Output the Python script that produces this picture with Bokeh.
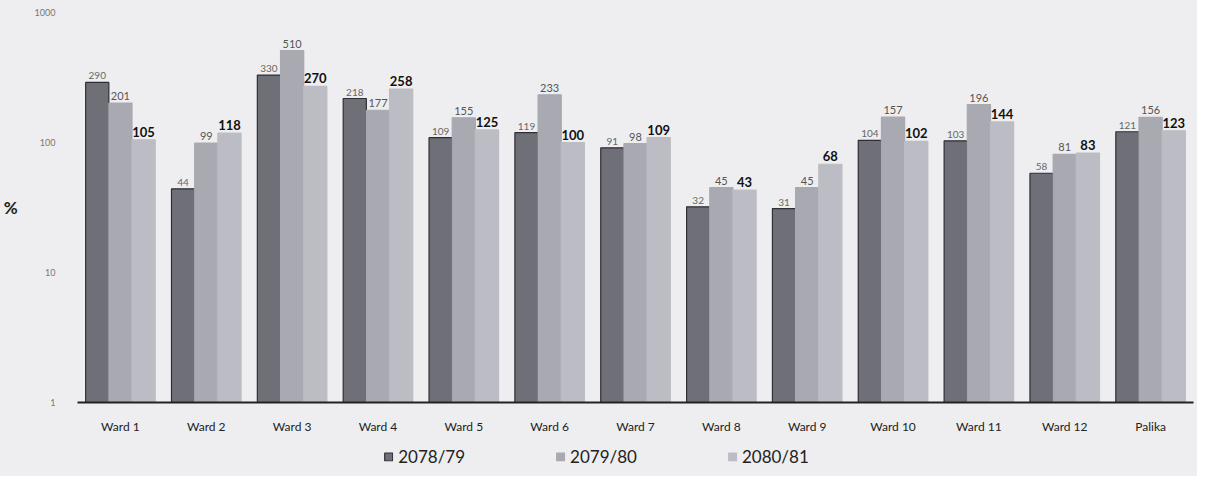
from bokeh.plotting import figure
from bokeh.layouts import column
from bokeh.models import ColumnDataSource, FactorRange, Legend, LegendItem, NumeralTickFormatter, Range1d
from bokeh.transform import dodge
from bokeh.core.properties import value
from bokeh.embed import file_html
from bokeh.resources import INLINE

categories = ["Ward 1", "Ward 2", "Ward 3", "Ward 4", "Ward 5", "Ward 6", "Ward 7",
              "Ward 8", "Ward 9", "Ward 10", "Ward 11", "Ward 12", "Palika"]
s2078 = [290, 44, 330, 218, 109, 119, 91, 32, 31, 104, 103, 58, 121]
s2079 = [201, 99, 510, 177, 155, 233, 98, 45, 45, 157, 196, 81, 156]
s2080 = [105, 118, 270, 258, 125, 100, 109, 43, 68, 102, 144, 83, 123]
series_names = ["2078/79", "2079/80", "2080/81"]
y_ticks = [1, 10, 100, 1000]

src = ColumnDataSource(dict(
    cat=categories, a=s2078, b=s2079, c=s2080,
    la=[str(v) for v in s2078], lb=[str(v) for v in s2079], lc=[str(v) for v in s2080],
))

BG = "#eeeef0"
FONT = "Lato"

p = figure(x_range=FactorRange(*categories), y_axis_type="log", y_range=(1, 1000),
           frame_width=1116, frame_height=390, output_backend="svg", toolbar_location=None,
           min_border_left=72, min_border_right=4, min_border_top=12, min_border_bottom=4,
           background_fill_color=BG, border_fill_color=BG)
p.outline_line_color = None
p.xgrid.visible = False
p.ygrid.visible = False

w = 0.27
cols = [("a", -w, "#6f6f78", "#2e2e36"), ("b", 0.0, "#a9a9b2", "#a9a9b2"), ("c", w, "#bcbcc4", "#bcbcc4")]
for field, off, fill, line in cols:
    p.vbar(x=dodge("cat", off, range=p.x_range), top=field, bottom=1, width=w,
           source=src, fill_color=fill, line_color=line, line_width=1.2)

p.text(x=dodge("cat", -w, range=p.x_range), y="a", text="la", source=src,
       text_font=value(FONT), text_font_size="10px", text_color="#666666",
       text_align="center", text_baseline="bottom", y_offset=-3)
p.text(x=dodge("cat", 0.0, range=p.x_range), y="b", text="lb", source=src,
       text_font=value(FONT), text_font_size="11px", text_color="#555555",
       text_align="center", text_baseline="bottom", y_offset=-3)
p.text(x=dodge("cat", w, range=p.x_range), y="c", text="lc", source=src,
       text_font=value(FONT), text_font_size="13px", text_font_style="bold", text_color="#111111",
       text_align="center", text_baseline="bottom", y_offset=-3)

p.yaxis.ticker = y_ticks
p.yaxis.formatter = NumeralTickFormatter(format="0")
p.yaxis.axis_line_color = None
p.yaxis.major_tick_line_color = None
p.yaxis.minor_tick_line_color = None
p.yaxis.major_label_text_font = FONT
p.yaxis.major_label_text_font_size = "9px"
p.yaxis.major_label_text_color = "#777777"
p.yaxis.major_label_standoff = 16
p.yaxis.axis_label = "%"
p.yaxis.axis_label_orientation = "horizontal"
p.yaxis.axis_label_text_font = FONT
p.yaxis.axis_label_text_font_size = "17px"
p.yaxis.axis_label_text_font_style = "bold"
p.yaxis.axis_label_text_color = "#222222"
p.yaxis.axis_label_standoff = 14

p.xaxis.axis_line_color = "#222222"
p.xaxis.axis_line_width = 2
p.xaxis.major_tick_line_color = None
p.xaxis.minor_tick_line_color = None
p.xaxis.major_label_text_font = FONT
p.xaxis.major_label_text_font_size = "12px"
p.xaxis.major_label_text_color = "#222222"
p.xaxis.major_label_standoff = 10

# legend strip below the chart (legend-only renderers hold a single NaN so nothing is drawn)
lg = figure(frame_width=1116, frame_height=40, output_backend="svg", toolbar_location=None,
            x_range=Range1d(0, 1), y_range=Range1d(0, 1),
            x_axis_location=None, y_axis_location=None,
            min_border_left=72, min_border_right=4, min_border_top=0, min_border_bottom=0,
            background_fill_color=BG, border_fill_color=BG)
lg.outline_line_color = None
lg.xgrid.visible = False
lg.ygrid.visible = False
nan_src = ColumnDataSource(dict(x=[float("nan")], top=[float("nan")]))
dummies = []
for field, off, fill, line in cols:
    dummies.append(lg.vbar(x="x", top="top", width=0.1, source=nan_src,
                           fill_color=fill, line_color=line, line_width=1.2))

legend = Legend(items=[LegendItem(label=n, renderers=[r]) for n, r in zip(series_names, dummies)],
                orientation="horizontal", location="center",
                label_text_font=FONT, label_text_font_size="17px", label_text_color="#222222",
                glyph_width=10, glyph_height=10, spacing=90, padding=2, margin=2,
                background_fill_alpha=0, border_line_color=None)
lg.add_layout(legend)

layout = column(p, lg, spacing=0, styles={"background-color": BG})
open("out.html", "w").write(file_html(layout, INLINE))
